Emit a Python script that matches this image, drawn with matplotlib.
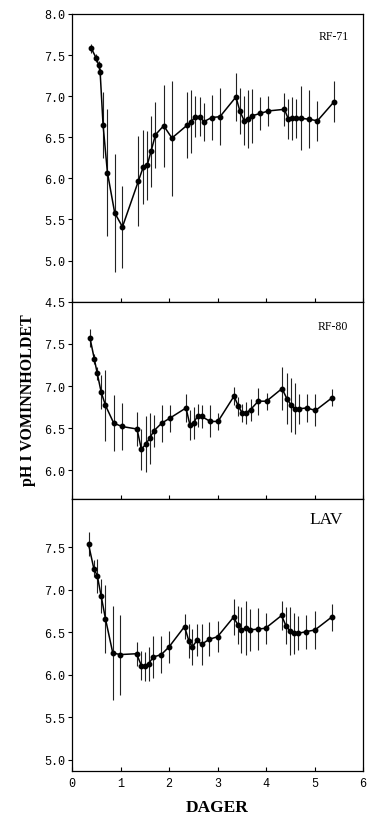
import numpy as np
import matplotlib.pyplot as plt

# RF-71
x71 = [0.40, 0.50, 0.55, 0.58, 0.64, 0.73, 0.88, 1.04, 1.37, 1.47, 1.55, 1.63, 1.72, 1.89,
       2.06, 2.38, 2.46, 2.54, 2.63, 2.72, 2.88, 3.05, 3.38, 3.46, 3.55, 3.63, 3.71, 3.88,
       4.05, 4.38, 4.46, 4.54, 4.62, 4.72, 4.88, 5.06, 5.40]
y71 = [7.58, 7.46, 7.38, 7.29, 6.65, 6.07, 5.58, 5.41, 5.97, 6.14, 6.16, 6.33, 6.53, 6.64,
       6.49, 6.65, 6.69, 6.75, 6.75, 6.69, 6.74, 6.75, 6.99, 6.82, 6.70, 6.72, 6.76, 6.79,
       6.82, 6.84, 6.72, 6.73, 6.73, 6.73, 6.72, 6.70, 6.93]
e71 = [0.05, 0.05, 0.05, 0.05, 0.40, 0.77, 0.72, 0.50, 0.55, 0.45, 0.42, 0.43, 0.40, 0.50,
       0.70, 0.40, 0.38, 0.25, 0.24, 0.23, 0.27, 0.35, 0.29, 0.28, 0.30, 0.35, 0.33, 0.20,
       0.18, 0.20, 0.24, 0.26, 0.24, 0.39, 0.35, 0.24, 0.25]

# RF-80
x80 = [0.37, 0.46, 0.52, 0.60, 0.69, 0.86, 1.03, 1.34, 1.43, 1.52, 1.60, 1.69, 1.85, 2.02,
       2.35, 2.43, 2.51, 2.59, 2.67, 2.85, 3.01, 3.34, 3.43, 3.51, 3.59, 3.68, 3.84, 4.01,
       4.33, 4.43, 4.51, 4.60, 4.68, 4.84, 5.02, 5.36]
y80 = [7.57, 7.32, 7.15, 6.93, 6.77, 6.56, 6.52, 6.49, 6.25, 6.31, 6.38, 6.47, 6.56, 6.62,
       6.74, 6.54, 6.56, 6.65, 6.64, 6.58, 6.58, 6.88, 6.76, 6.68, 6.68, 6.72, 6.82, 6.82,
       6.97, 6.85, 6.78, 6.73, 6.73, 6.74, 6.71, 6.86]
e80 = [0.11, 0.06, 0.08, 0.20, 0.42, 0.33, 0.28, 0.20, 0.24, 0.33, 0.30, 0.19, 0.22, 0.16,
       0.17, 0.18, 0.19, 0.14, 0.14, 0.19, 0.10, 0.11, 0.11, 0.11, 0.13, 0.13, 0.16, 0.10,
       0.26, 0.30, 0.32, 0.30, 0.18, 0.17, 0.19, 0.10]

# LAV
xlav = [0.34, 0.45, 0.52, 0.60, 0.69, 0.84, 0.99, 1.33, 1.43, 1.50, 1.58, 1.67, 1.84, 2.00,
        2.32, 2.41, 2.48, 2.58, 2.67, 2.83, 3.00, 3.33, 3.42, 3.49, 3.58, 3.66, 3.83, 3.99,
        4.32, 4.41, 4.49, 4.57, 4.66, 4.83, 5.01, 5.35]
ylav = [7.54, 7.25, 7.17, 6.93, 6.66, 6.26, 6.24, 6.25, 6.11, 6.10, 6.13, 6.21, 6.24, 6.33,
        6.57, 6.40, 6.33, 6.41, 6.36, 6.42, 6.45, 6.68, 6.59, 6.53, 6.55, 6.53, 6.54, 6.55,
        6.70, 6.58, 6.52, 6.49, 6.49, 6.51, 6.53, 6.68]
elav = [0.14, 0.10, 0.20, 0.20, 0.40, 0.55, 0.47, 0.14, 0.17, 0.17, 0.20, 0.25, 0.22, 0.19,
        0.15, 0.20, 0.21, 0.19, 0.24, 0.20, 0.18, 0.21, 0.22, 0.27, 0.32, 0.25, 0.25, 0.18,
        0.17, 0.22, 0.28, 0.24, 0.20, 0.20, 0.22, 0.16]

panels = [
    (x71, y71, e71, "RF-71", (4.5, 8.0), [4.5, 5.0, 5.5, 6.0, 6.5, 7.0, 7.5, 8.0]),
    (x80, y80, e80, "RF-80", (5.66, 8.0), [6.0, 6.5, 7.0, 7.5]),
    (xlav, ylav, elav, "LAV", (4.87, 8.07), [5.0, 5.5, 6.0, 6.5, 7.0, 7.5]),
]
# axes rectangles (fig fraction)
rects = [[0.1957, 0.6309, 0.7908, 0.3509],
         [0.1957, 0.3902, 0.7908, 0.2407],
         [0.1957, 0.0585, 0.7908, 0.3317]]

mono = "Liberation Mono"
serif = "Liberation Serif"

fig = plt.figure(figsize=(3.68, 8.2), dpi=100)
for i, (xs, ys, es, name, ylim, yt) in enumerate(panels):
    ax = fig.add_axes(rects[i])
    ax.errorbar(xs, ys, yerr=es, fmt='none', ecolor='#222222', elinewidth=0.8, capsize=0)
    ax.plot(xs, ys, '-o', color='black', lw=1.1, ms=3.2)
    ax.set_xlim(0, 6)
    ax.set_ylim(*ylim)
    ax.set_yticks(yt)
    ax.set_yticklabels(["%.1f" % v for v in yt], fontfamily=mono, fontsize=8.5)
    ax.set_xticks([0, 1, 2, 3, 4, 5, 6])
    ax.tick_params(axis='y', direction='out', length=3, width=0.8, pad=2)
    ax.tick_params(axis='x', direction='in', length=3, width=0.8, pad=4)
    if i < 2:
        ax.set_xticklabels([])
    else:
        ax.set_xticklabels([str(v) for v in range(7)], fontfamily=mono, fontsize=8.5)
    for s in ax.spines.values():
        s.set_linewidth(0.9)
    if name == "LAV":
        ax.text(0.93, 0.925, name, transform=ax.transAxes, ha='right', va='center',
                fontfamily=serif, fontsize=12.5)
    else:
        ax.text(0.95, 0.925 if i == 0 else 0.875, name, transform=ax.transAxes, ha='right',
                va='center', fontfamily=serif, fontsize=8.5)

fig.text(0.077, 0.512, "pH I VOMINNHOLDET", rotation=90, ha='center', va='center',
         fontfamily=serif, fontweight='bold', fontsize=11.5)
fig.text(0.59, 0.015, "DAGER", ha='center', va='center',
         fontfamily=serif, fontweight='bold', fontsize=12.5)

fig.savefig("out.png", dpi=100)
